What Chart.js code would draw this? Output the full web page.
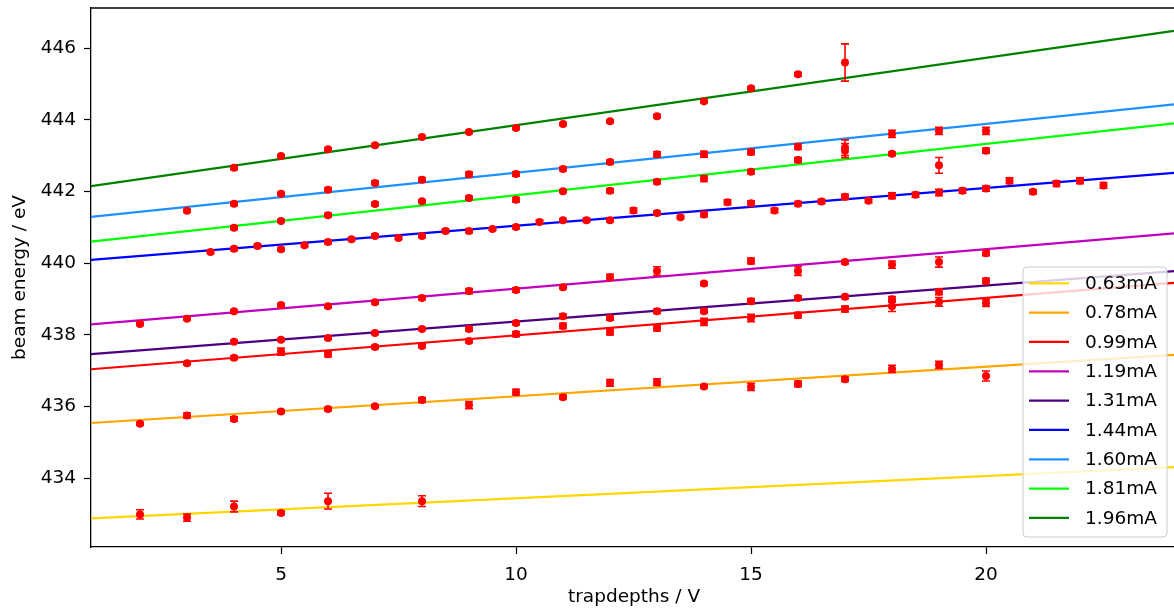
<!DOCTYPE html>
<html>
<head>
<meta charset="utf-8">
<script src="https://cdn.jsdelivr.net/npm/chart.js@4.4.1/dist/chart.umd.min.js"></script>
<style>
  body { margin: 0; background: #fff; }
  #wrap { width: 1174px; height: 610px; }
</style>
</head>
<body>
<div id="wrap"><canvas id="beamChart" width="1174" height="610"></canvas></div>
<script>
// currents (one fit line + one set of measured points each)
const currents = ['0.63mA', '0.78mA', '0.99mA', '1.19mA', '1.31mA', '1.44mA', '1.60mA', '1.81mA', '1.96mA'];
const lineColors = ['#ffd700', '#ffa500', '#ff0000', '#bf00bf', '#4b0082', '#0000ff', '#1e90ff', '#00ff00', '#008000'];

// fitted lines, value at the left and the right end of the x range
const fitX = [0.957, 24.0];
const fitLeft = [432.88, 435.54, 437.04, 438.29, 437.46, 440.09, 441.29, 440.60, 442.15];
const fitRight = [434.31, 437.44, 439.45, 440.83, 439.78, 442.52, 444.43, 443.90, 446.48];

// measured points: trap depth, beam energy, error
const x063 = [2, 3, 4, 5, 6, 8];
const y063 = [432.99, 432.90, 433.21, 433.03, 433.36, 433.36];
const e063 = [0.13, 0.1, 0.15, 0.05, 0.22, 0.15];

const x078 = [2, 3, 4, 5, 6, 7, 8, 9, 10, 11, 12, 13, 14, 15, 16, 17, 18, 19, 20];
const y078 = [435.52, 435.75, 435.65, 435.86, 435.93, 436.01, 436.18, 436.04, 436.40, 436.26, 436.66, 436.68, 436.56, 436.55, 436.63, 436.76, 437.05, 437.16, 436.85];
const e078 = [0.04, 0.07, 0.06, 0.04, 0.05, 0.04, 0.07, 0.1, 0.08, 0.05, 0.09, 0.09, 0.04, 0.1, 0.08, 0.06, 0.1, 0.1, 0.14];

const x099 = [3, 4, 5, 6, 7, 8, 9, 10, 11, 12, 13, 14, 15, 16, 17, 18, 19, 20];
const y099 = [437.21, 437.36, 437.53, 437.46, 437.66, 437.69, 437.83, 438.02, 438.25, 438.08, 438.19, 438.36, 438.47, 438.55, 438.72, 438.80, 438.92, 438.89];
const e099 = [0.04, 0.05, 0.1, 0.08, 0.05, 0.05, 0.05, 0.07, 0.07, 0.08, 0.08, 0.1, 0.1, 0.08, 0.08, 0.15, 0.12, 0.1];

const x119 = [2, 3, 4, 5, 6, 7, 8, 9, 10, 11, 12, 13, 14, 15, 16, 17, 18, 19, 20];
const y119 = [438.30, 438.45, 438.66, 438.83, 438.80, 438.91, 439.03, 439.22, 439.25, 439.33, 439.61, 439.78, 439.43, 440.06, 439.78, 440.03, 439.96, 440.03, 440.28];
const e119 = [0.04, 0.04, 0.04, 0.05, 0.04, 0.05, 0.05, 0.07, 0.06, 0.05, 0.08, 0.12, 0.05, 0.08, 0.12, 0.05, 0.1, 0.14, 0.07];

const x131 = [4, 5, 6, 7, 8, 9, 10, 11, 12, 13, 14, 15, 16, 17, 18, 19, 20];
const y131 = [437.81, 437.86, 437.91, 438.05, 438.16, 438.16, 438.33, 438.52, 438.47, 438.66, 438.66, 438.94, 439.03, 439.06, 438.99, 439.20, 439.50];
const e131 = [0.04, 0.04, 0.04, 0.04, 0.04, 0.06, 0.05, 0.06, 0.06, 0.06, 0.05, 0.07, 0.06, 0.05, 0.08, 0.08, 0.08];

const x144 = [3.5, 4, 4.5, 5, 5.5, 6, 6.5, 7, 7.5, 8, 8.5, 9, 9.5, 10, 10.5, 11, 11.5, 12, 12.5, 13,
  13.5, 14, 14.5, 15, 15.5, 16, 16.5, 17, 17.5, 18, 18.5, 19, 19.5, 20, 20.5, 21, 21.5, 22, 22.5];
const y144 = [440.31, 440.40, 440.48, 440.39, 440.50, 440.59, 440.67, 440.76, 440.70, 440.76, 440.90, 440.90, 440.95, 441.01, 441.15, 441.20, 441.20, 441.20, 441.47, 441.40,
  441.28, 441.36, 441.70, 441.67, 441.47, 441.66, 441.72, 441.85, 441.74, 441.88, 441.91, 441.97, 442.02, 442.08, 442.30, 441.99, 442.22, 442.30, 442.17];
const e144 = [0.04, 0.05, 0.05, 0.04, 0.04, 0.05, 0.04, 0.05, 0.04, 0.05, 0.05, 0.05, 0.04, 0.05, 0.05, 0.04, 0.05, 0.05, 0.07, 0.05,
  0.04, 0.07, 0.07, 0.07, 0.06, 0.06, 0.06, 0.07, 0.05, 0.08, 0.07, 0.09, 0.07, 0.07, 0.08, 0.06, 0.08, 0.08, 0.08];

const x160 = [3, 4, 5, 6, 7, 8, 9, 10, 11, 12, 13, 14, 15, 16, 17, 18, 19, 20];
const y160 = [441.46, 441.66, 441.94, 442.05, 442.24, 442.33, 442.48, 442.49, 442.63, 442.82, 443.04, 443.04, 443.10, 443.25, 443.22, 443.61, 443.69, 443.69];
const e160 = [0.04, 0.05, 0.04, 0.05, 0.05, 0.06, 0.06, 0.06, 0.05, 0.06, 0.07, 0.08, 0.07, 0.08, 0.22, 0.1, 0.1, 0.1];

const x181 = [4, 5, 6, 7, 8, 9, 10, 11, 12, 13, 14, 15, 16, 17, 18, 19, 20];
const y181 = [440.99, 441.18, 441.34, 441.65, 441.73, 441.82, 441.77, 442.01, 442.02, 442.27, 442.36, 442.55, 442.88, 443.14, 443.05, 442.73, 443.14];
const e181 = [0.05, 0.04, 0.05, 0.05, 0.04, 0.05, 0.06, 0.04, 0.06, 0.06, 0.08, 0.06, 0.07, 0.2, 0.05, 0.22, 0.07];

const x196 = [4, 5, 6, 7, 8, 9, 10, 11, 12, 13, 14, 15, 16, 17];
const y196 = [442.66, 442.99, 443.18, 443.29, 443.52, 443.66, 443.77, 443.88, 443.96, 444.10, 444.52, 444.88, 445.27, 445.60];
const e196 = [0.05, 0.04, 0.04, 0.04, 0.04, 0.04, 0.04, 0.04, 0.04, 0.05, 0.04, 0.04, 0.05, 0.52];

const pointSets = [
  [x063, y063, e063], [x078, y078, e078], [x099, y099, e099],
  [x119, y119, e119], [x131, y131, e131], [x144, y144, e144],
  [x160, y160, e160], [x181, y181, e181], [x196, y196, e196]
];

const xTicks = [5, 10, 15, 20];
const yTicks = [434, 436, 438, 440, 442, 444, 446];
const xRange = [0.957, 24.0];
const yRange = [432.08, 447.12];

const pointColor = '#ff0000';
const FONT = 'DejaVu Sans';
const FS = 18.5;

const datasets = [];
pointSets.forEach((set, i) => {
  datasets.push({
    label: currents[i] + ' data',
    data: set[0].map((v, j) => ({ x: v, y: set[1][j] })),
    errors: set[2],
    showLine: false,
    pointRadius: 4,
    pointHoverRadius: 4,
    pointBackgroundColor: pointColor,
    pointBorderWidth: 0,
    order: 0
  });
});
currents.forEach((c, i) => {
  datasets.push({
    label: c,
    isFit: true,
    data: [{ x: fitX[0], y: fitLeft[i] }, { x: fitX[1], y: fitRight[i] }],
    showLine: true,
    borderColor: lineColors[i],
    borderWidth: 2.2,
    pointRadius: 0,
    order: 1
  });
});

// error bars with caps, drawn through the chart scales
const errorBars = {
  id: 'errorBars',
  afterDatasetsDraw(chart) {
    const { ctx, scales: { x, y } } = chart;
    ctx.save();
    ctx.strokeStyle = pointColor;
    ctx.lineWidth = 1.6;
    chart.data.datasets.forEach(ds => {
      if (!ds.errors) return;
      ds.data.forEach((p, j) => {
        const px = x.getPixelForValue(p.x);
        const top = y.getPixelForValue(p.y + ds.errors[j]);
        const bot = y.getPixelForValue(p.y - ds.errors[j]);
        ctx.beginPath();
        ctx.moveTo(px, top); ctx.lineTo(px, bot);
        ctx.moveTo(px - 4, top); ctx.lineTo(px + 4, top);
        ctx.moveTo(px - 4, bot); ctx.lineTo(px + 4, bot);
        ctx.stroke();
      });
    });
    ctx.restore();
  }
};

// frame top, axis titles and the legend box
const decorations = {
  id: 'decorations',
  afterDraw(chart) {
    const { ctx, chartArea } = chart;
    ctx.save();
    ctx.strokeStyle = '#000';
    ctx.lineWidth = 1.3;
    ctx.beginPath();
    ctx.moveTo(chartArea.left, chartArea.top);
    ctx.lineTo(chartArea.right, chartArea.top);
    ctx.stroke();

    ctx.fillStyle = '#000';
    ctx.font = FS + 'px "' + FONT + '"';
    ctx.textAlign = 'center';
    ctx.textBaseline = 'middle';
    ctx.fillText('trapdepths / V', 634, 597);
    ctx.save();
    ctx.translate(20, (chartArea.top + chartArea.bottom) / 2);
    ctx.rotate(-Math.PI / 2);
    ctx.fillText('beam energy / eV', 0, 0);
    ctx.restore();

    // legend
    const bx = 1023, by = 267, bw = 144, bh = 270, r = 4;
    ctx.beginPath();
    ctx.moveTo(bx + r, by);
    ctx.arcTo(bx + bw, by, bx + bw, by + bh, r);
    ctx.arcTo(bx + bw, by + bh, bx, by + bh, r);
    ctx.arcTo(bx, by + bh, bx, by, r);
    ctx.arcTo(bx, by, bx + bw, by, r);
    ctx.closePath();
    ctx.fillStyle = 'rgba(255,255,255,0.8)';
    ctx.fill();
    ctx.strokeStyle = '#cccccc';
    ctx.lineWidth = 1;
    ctx.stroke();

    ctx.textAlign = 'left';
    ctx.fillStyle = '#000';
    chart.data.datasets.filter(d => d.isFit).forEach((d, i) => {
      const ry = 283.3 + i * 29.33;
      ctx.strokeStyle = d.borderColor;
      ctx.lineWidth = 2.2;
      ctx.beginPath();
      ctx.moveTo(1029, ry);
      ctx.lineTo(1069, ry);
      ctx.stroke();
      ctx.fillText(d.label, 1085, ry + 1);
    });
    ctx.restore();
  }
};

new Chart(document.getElementById('beamChart'), {
  type: 'scatter',
  data: { datasets },
  options: {
    responsive: false,
    animation: false,
    events: [],
    layout: { autoPadding: false, padding: { top: 8, right: 0, left: 0, bottom: 0 } },
    plugins: {
      legend: { display: false },
      tooltip: { enabled: false }
    },
    scales: {
      x: {
        type: 'linear',
        min: xRange[0],
        max: xRange[1],
        afterBuildTicks: s => { s.ticks = xTicks.map(v => ({ value: v })); },
        afterFit: s => { s.height = 63; s.paddingLeft = 0; s.paddingRight = 0; },
        grid: { drawOnChartArea: false, tickLength: 7, tickColor: '#000', tickWidth: 1.2 },
        border: { color: '#000', width: 1.3 },
        ticks: { color: '#000', font: { family: FONT, size: FS }, padding: 10, maxRotation: 0 }
      },
      y: {
        type: 'linear',
        min: yRange[0],
        max: yRange[1],
        afterBuildTicks: s => { s.ticks = yTicks.map(v => ({ value: v })); },
        afterFit: s => { s.width = 91; s.paddingTop = 0; s.paddingBottom = 0; },
        grid: { drawOnChartArea: false, tickLength: 7, tickColor: '#000', tickWidth: 1.2 },
        border: { color: '#000', width: 1.3 },
        ticks: { color: '#000', font: { family: FONT, size: FS }, padding: 8 }
      }
    }
  },
  plugins: [errorBars, decorations]
});
</script>
</body>
</html>
